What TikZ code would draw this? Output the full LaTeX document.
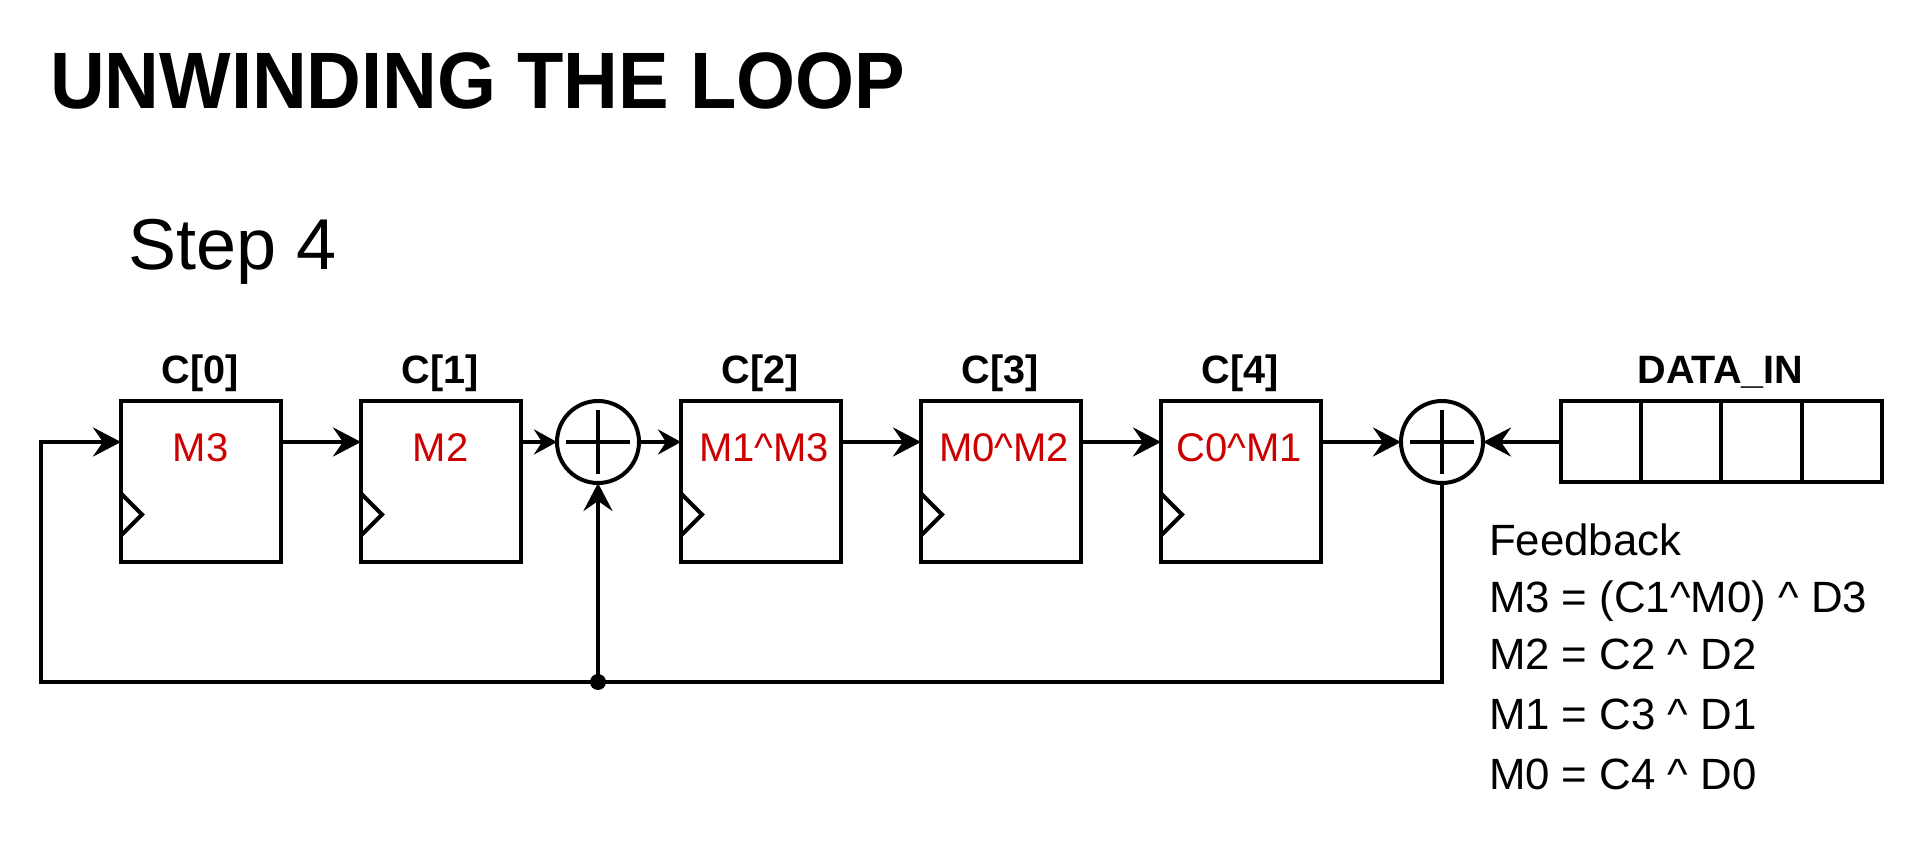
\documentclass[tikz,border=0pt]{standalone}
\usepackage{fontspec}
\setmainfont{Liberation Sans}
\usetikzlibrary{arrows.meta}
\tikzset{
  x=0.5pt,y=-0.5pt,
  every node/.style={inner sep=0pt,outer sep=0pt},
  line/.style={line width=2pt,line join=miter,black},
  arr/.style={line,-{Stealth[length=14pt,width=14.5pt,inset=5pt]}},
  arrsmall/.style={line,-{Stealth[length=11.5pt,width=12.5pt,inset=4pt]}},
  reg/.style={draw,line,minimum width=80pt,minimum height=80.5pt},
  cell/.style={draw,line,minimum width=40.1pt,minimum height=40.5pt},
  xorgate/.style={draw,line,circle,minimum size=41pt},
  regname/.style={anchor=base,font=\fontsize{19.8}{23}\selectfont\bfseries},
  regval/.style={anchor=base,text=valred,font=\fontsize{20}{24}\selectfont},
  eqn/.style={anchor=base west,font=\fontsize{21.9}{26}\selectfont},
  dotj/.style={circle,fill=black,minimum size=8pt}
}
\definecolor{valred}{HTML}{CC0000}
\begin{document}
\begin{tikzpicture}
\useasboundingbox (0,0) rectangle (1924,844);
\node[anchor=base west,font=\fontsize{40}{48}\selectfont\bfseries] (title) at (50,109) {\scalebox{0.948}[1]{UNWINDING THE LOOP}};
\node[anchor=base west,font=\fontsize{36}{43}\selectfont] (step) at (128,270) {Step 4};
% registers
\node[reg] (c0) at (201,482) {};
\node[reg] (c1) at (441,482) {};
\node[reg] (c2) at (761,482) {};
\node[reg] (c3) at (1001,482) {};
\node[reg] (c4) at (1241,482) {};
\node[regname] (n0) at (200,384) {C[0]};
\node[regname] (n1) at (440,384) {C[1]};
\node[regname] (n2) at (760,384) {C[2]};
\node[regname] (n3) at (1000,384) {C[3]};
\node[regname] (n4) at (1240,384) {C[4]};
\node[regval] (v0) at (200.5,461.5) {M3};
\node[regval] (v1) at (440.5,461.5) {M2};
\node[regval] (v2) at (764,461.5) {M1\textasciicircum M3};
\node[regval] (v3) at (1004,461.5) {M0\textasciicircum M2};
\node[regval] (v4) at (1239,461.5) {C0\textasciicircum M1};
% clock triangles
\foreach \c in {c0,c1,c2,c3,c4}
  \draw[line] (\c.south west) ++(0,-69) -- ++(21,21) -- ++(-21,21);
% xor gates
\node[xorgate] (o1) at (598,442) {};
\node[xorgate] (o2) at (1442,442) {};
\foreach \o in {o1,o2}{
  \draw[line] (\o.center) ++(-32,0) -- ++(64,0);
  \draw[line] (\o.center) ++(0,-32) -- ++(0,64);
}
% data in
\node[cell] (d1) at (1601,442) {};
\node[cell] (d2) at (1681.2,442) {};
\node[cell] (d3) at (1761.4,442) {};
\node[cell] (d4) at (1841.6,442) {};
\node[regname] (dn) at (1720.5,384) {DATA\_IN};
% equations
\node[eqn] (e0) at (1489,556) {Feedback};
\node[eqn] (e1) at (1489,612.5) {M3 = (C1\textasciicircum M0) \textasciicircum\ D3};
\node[eqn] (e2) at (1489,669.5) {M2 = C2 \textasciicircum\ D2};
\node[eqn] (e3) at (1489,729.5) {M1 = C3 \textasciicircum\ D1};
\node[eqn] (e4) at (1489,789.5) {M0 = C4 \textasciicircum\ D0};
% connectors
\draw[arr] (c0.east |- o1.center) -- (c1.west |- o1.center);
\draw[arrsmall] (c1.east |- o1.center) -- (o1.west);
\draw[arrsmall] (o1.east) -- (c2.west |- o1.center);
\draw[arr] (c2.east |- o1.center) -- (c3.west |- o1.center);
\draw[arr] (c3.east |- o1.center) -- (c4.west |- o1.center);
\draw[arr] (c4.east |- o1.center) -- (o2.west);
\draw[arr] (d1.west) -- (o2.east);
\coordinate (fb) at (41,682);
\draw[arr] (o2.south) |- (fb) |- (c0.west |- o1.center);
\node[dotj] (j) at (o1 |- fb) {};
\draw[arr] (j.center) -- (o1.south);
\end{tikzpicture}
\end{document}
